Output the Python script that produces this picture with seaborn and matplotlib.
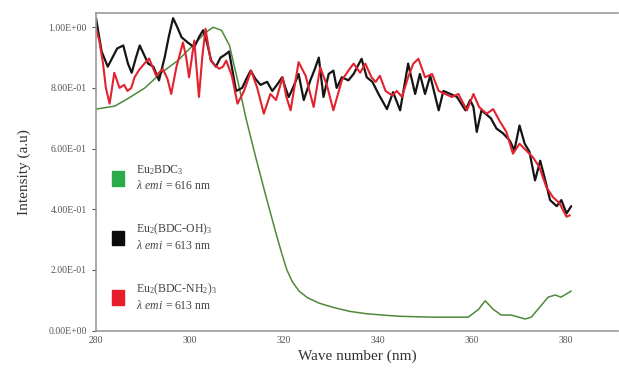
import numpy as np
import pandas as pd
import matplotlib
matplotlib.use("Agg")
import matplotlib.pyplot as plt
from matplotlib.patches import Patch
from matplotlib.ticker import FuncFormatter
import seaborn as sns

# ---------------- data ----------------
green_x = [280.0, 284.0, 286.8, 290.4, 293.9, 297.4, 301.0, 303.1, 304.9, 306.7, 308.4,
           310.5, 311.9, 314.0, 316.2, 318.3, 319.5, 320.6, 321.8, 323.2, 325.0, 327.5,
           330.5, 334.0, 337.7, 344.4, 351.4, 359.2, 361.4, 362.8, 364.5, 366.2, 368.3,
           371.3, 372.6, 376.2, 377.7, 378.9, 381.1]
green_y = [0.73, 0.74, 0.765, 0.80, 0.85, 0.89, 0.946, 0.98, 1.00, 0.99, 0.94,
           0.80, 0.70, 0.57, 0.44, 0.32, 0.255, 0.20, 0.16, 0.13, 0.108, 0.09,
           0.076, 0.063, 0.055, 0.047, 0.044, 0.044, 0.07, 0.098, 0.07, 0.051, 0.051,
           0.038, 0.044, 0.11, 0.117, 0.11, 0.13]

black_x = [280.0, 281.2, 282.5, 283.5, 284.5, 285.8, 286.8, 287.6, 288.5, 289.3, 290.2,
           291.1, 292.2, 293.4, 294.6, 295.5, 296.4, 297.3, 298.2, 299.5, 300.9, 302.0,
           302.8, 303.6, 304.5, 305.5, 306.5, 307.5, 308.3, 309.0, 309.8, 311.1, 312.0,
           312.9, 313.9, 315.0, 316.4, 317.5, 318.5, 319.6, 320.3, 321.0, 321.9, 323.1,
           324.2, 325.6, 326.5, 327.4, 328.4, 329.5, 330.5, 331.2, 332.3, 333.7, 334.8,
           336.5, 337.6, 338.8, 340.1, 341.9, 343.2, 344.7, 346.4, 347.9, 348.9, 350.0,
           351.1, 352.9, 353.9, 355.4, 356.8, 358.6, 359.6, 360.3, 361.0, 362.0, 364.0,
           365.2, 366.6, 368.0, 369.0, 370.1, 371.2, 372.2, 373.4, 374.5, 375.5, 376.6,
           378.0, 379.0, 380.1, 381.1]
black_y = [1.03, 0.92, 0.87, 0.90, 0.93, 0.94, 0.88, 0.85, 0.90, 0.94, 0.91,
           0.88, 0.87, 0.825, 0.90, 0.97, 1.03, 1.00, 0.967, 0.95, 0.934, 0.97,
           0.99, 0.95, 0.89, 0.87, 0.90, 0.91, 0.92, 0.86, 0.79, 0.80, 0.83,
           0.857, 0.83, 0.81, 0.82, 0.79, 0.81, 0.835, 0.80, 0.77, 0.80, 0.846,
           0.76, 0.825, 0.86, 0.90, 0.77, 0.846, 0.857, 0.80, 0.835, 0.825, 0.846,
           0.896, 0.835, 0.82, 0.78, 0.73, 0.786, 0.726, 0.88, 0.78, 0.846, 0.78,
           0.84, 0.726, 0.79, 0.78, 0.77, 0.726, 0.76, 0.737, 0.655, 0.726, 0.70,
           0.666, 0.65, 0.627, 0.594, 0.676, 0.616, 0.59, 0.495, 0.56, 0.50, 0.43,
           0.41, 0.43, 0.386, 0.41]

red_x = [280.0, 280.7, 281.5, 282.1, 282.9, 283.9, 285.0, 286.0, 286.7, 287.5, 288.2,
         289.2, 290.3, 291.3, 292.0, 292.8, 294.2, 295.2, 296.0, 297.1, 298.5, 299.2,
         299.8, 300.9, 301.9, 302.6, 303.3, 304.4, 305.3, 306.2, 307.0, 307.7, 308.9,
         310.1, 311.5, 313.0, 314.3, 315.7, 317.1, 318.3, 319.7, 320.5, 321.4, 323.1,
         324.6, 326.3, 327.7, 329.1, 330.5, 332.3, 333.7, 334.8, 336.2, 337.3, 338.6,
         339.5, 340.4, 341.6, 343.0, 344.0, 345.1, 346.4, 347.5, 348.6, 350.0, 351.5,
         352.9, 354.3, 355.7, 357.1, 358.9, 360.3, 361.5, 363.1, 364.5, 365.9, 367.3,
         368.7, 370.1, 371.5, 372.9, 374.3, 375.8, 377.2, 378.6, 380.1, 380.8]
red_y = [0.995, 0.956, 0.88, 0.80, 0.748, 0.85, 0.80, 0.81, 0.79, 0.80, 0.835,
         0.86, 0.88, 0.897, 0.87, 0.84, 0.863, 0.83, 0.78, 0.868, 0.95, 0.90,
         0.835, 0.956, 0.77, 0.90, 0.995, 0.89, 0.875, 0.863, 0.87, 0.89, 0.84,
         0.748, 0.79, 0.857, 0.80, 0.715, 0.78, 0.76, 0.835, 0.77, 0.726, 0.885,
         0.84, 0.737, 0.868, 0.81, 0.726, 0.825, 0.857, 0.88, 0.85, 0.88, 0.835,
         0.82, 0.84, 0.79, 0.775, 0.79, 0.77, 0.835, 0.88, 0.896, 0.835, 0.846,
         0.79, 0.78, 0.77, 0.78, 0.726, 0.78, 0.737, 0.715, 0.73, 0.69, 0.655,
         0.583, 0.616, 0.594, 0.572, 0.54, 0.473, 0.44, 0.42, 0.375, 0.38]

series_names = ["Eu2BDC3", "Eu2(BDC-OH)3", "Eu2(BDC-NH2)3"]
legend_labels = [
    "Eu$_2$BDC$_3$\n$\\lambda$ $\\it{emi\\ =616}$ nm",
    "Eu$_2$(BDC-OH)$_3$\n$\\lambda$ $\\it{emi\\ =613}$ nm",
    "Eu$_2$(BDC-NH$_2$)$_3$\n$\\lambda$ $\\it{emi\\ =613}$ nm",
]
x_ticks = [280, 300, 320, 340, 360, 380]
y_ticks = [0.0, 0.2, 0.4, 0.6, 0.8, 1.0]

line_colors = {"Eu2BDC3": "#4e8a3a", "Eu2(BDC-OH)3": "#151515", "Eu2(BDC-NH2)3": "#e2232f"}
patch_colors = ["#2bab4a", "#0a0a0a", "#e81c2a"]

df = pd.concat([
    pd.DataFrame({"wave": green_x, "intensity": green_y, "sample": series_names[0]}),
    pd.DataFrame({"wave": black_x, "intensity": black_y, "sample": series_names[1]}),
    pd.DataFrame({"wave": red_x, "intensity": red_y, "sample": series_names[2]}),
], ignore_index=True)

# ---------------- plot ----------------
sns.set_style("white")
plt.rcParams["font.family"] = ["Liberation Serif", "DejaVu Serif"]
plt.rcParams["mathtext.fontset"] = "custom"
plt.rcParams["mathtext.rm"] = "Liberation Serif"
plt.rcParams["mathtext.it"] = "Liberation Serif:italic"

fig = plt.figure(figsize=(6.19, 3.78), dpi=100)
ax = fig.add_axes([96 / 619, 1 - 330.5 / 378, 1 - 96 / 619 - 0.002, (330.5 - 12.7) / 378])

for name, lw in [(series_names[0], 1.1), (series_names[1], 1.6), (series_names[2], 1.5)]:
    sns.lineplot(data=df[df["sample"] == name], x="wave", y="intensity",
                 color=line_colors[name], lw=lw, sort=False, estimator=None,
                 ax=ax, legend=False)

ax.set_xlim(280, 391)
ax.set_ylim(0, 1.048)
ax.set_xticks(x_ticks)
ax.set_yticks(y_ticks)
ax.yaxis.set_major_formatter(FuncFormatter(lambda v, p: f"{v:.2E}"))
ax.tick_params(axis="both", labelsize=7, colors="#555555", length=3, width=0.8,
               direction="out", left=True, bottom=True)
ax.tick_params(axis="x", length=0, pad=4)

for s in ["top", "left", "bottom"]:
    ax.spines[s].set_color("#9a9a9a")
    ax.spines[s].set_linewidth(1.2)
ax.spines["right"].set_visible(False)

ax.set_xlabel("Wave number (nm)", fontsize=11, color="#333333", labelpad=3)
ax.set_ylabel("Intensity (a.u)", fontsize=11, color="#333333", labelpad=13)

handles = [Patch(facecolor=c, edgecolor=c) for c in patch_colors]
leg = ax.legend(handles, legend_labels, loc="upper left", bbox_to_anchor=(0.022, 0.54),
                frameon=False, fontsize=8.5, handlelength=1.0, handleheight=1.5,
                labelspacing=2.5, handletextpad=1.0, borderaxespad=0)
for t in leg.get_texts():
    t.set_color("#444444")

fig.savefig("out.png", dpi=100)
